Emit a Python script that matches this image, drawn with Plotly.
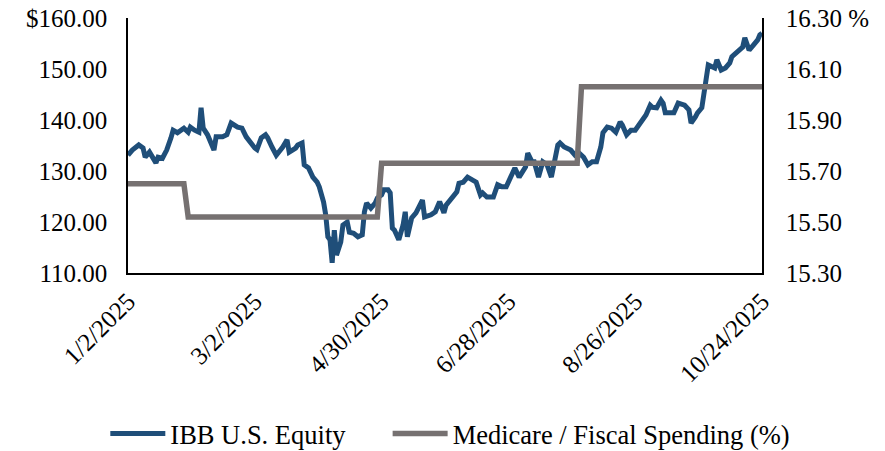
import plotly.graph_objects as go

# IBB U.S. Equity
ibb_dates = [
    "2025-01-02", "2025-01-04", "2025-01-07", "2025-01-09", "2025-01-10", "2025-01-12",
    "2025-01-15", "2025-01-16", "2025-01-18", "2025-01-20", "2025-01-22", "2025-01-23",
    "2025-01-25", "2025-01-28", "2025-01-30", "2025-01-31", "2025-02-02", "2025-02-04",
    "2025-02-05", "2025-02-06", "2025-02-08", "2025-02-11", "2025-02-12", "2025-02-15",
    "2025-02-17", "2025-02-19", "2025-02-22", "2025-02-24", "2025-02-26", "2025-02-28",
    "2025-03-02", "2025-03-03", "2025-03-05", "2025-03-07", "2025-03-08", "2025-03-10",
    "2025-03-12", "2025-03-15", "2025-03-17", "2025-03-18", "2025-03-21", "2025-03-22",
    "2025-03-24", "2025-03-25", "2025-03-27", "2025-03-29", "2025-03-31", "2025-04-01",
    "2025-04-03", "2025-04-04", "2025-04-05", "2025-04-06", "2025-04-07", "2025-04-08",
    "2025-04-09", "2025-04-11", "2025-04-12", "2025-04-14", "2025-04-15", "2025-04-17",
    "2025-04-19", "2025-04-21", "2025-04-22", "2025-04-23", "2025-04-25", "2025-04-27",
    "2025-04-28", "2025-04-30", "2025-05-01", "2025-05-03", "2025-05-04", "2025-05-05",
    "2025-05-06", "2025-05-08", "2025-05-10", "2025-05-11", "2025-05-12", "2025-05-14",
    "2025-05-16", "2025-05-19", "2025-05-20", "2025-05-23", "2025-05-25", "2025-05-27",
    "2025-05-29", "2025-05-30", "2025-06-02", "2025-06-04", "2025-06-05", "2025-06-07",
    "2025-06-09", "2025-06-11", "2025-06-13", "2025-06-15", "2025-06-16", "2025-06-18",
    "2025-06-21", "2025-06-23", "2025-06-25", "2025-06-27", "2025-06-30", "2025-07-01",
    "2025-07-03", "2025-07-06", "2025-07-07", "2025-07-09", "2025-07-10", "2025-07-12",
    "2025-07-14", "2025-07-15", "2025-07-16", "2025-07-18", "2025-07-19", "2025-07-21",
    "2025-07-22", "2025-07-24", "2025-07-27", "2025-07-29", "2025-07-31", "2025-08-02",
    "2025-08-04", "2025-08-06", "2025-08-08", "2025-08-10", "2025-08-11", "2025-08-13",
    "2025-08-15", "2025-08-17", "2025-08-19", "2025-08-20", "2025-08-22", "2025-08-24",
    "2025-08-26", "2025-08-27", "2025-08-30", "2025-08-31", "2025-09-02", "2025-09-03",
    "2025-09-05", "2025-09-07", "2025-09-08", "2025-09-09", "2025-09-10", "2025-09-13",
    "2025-09-15", "2025-09-17", "2025-09-18", "2025-09-20", "2025-09-21", "2025-09-23",
    "2025-09-24", "2025-09-26", "2025-09-27", "2025-09-28", "2025-09-29", "2025-10-01",
    "2025-10-02", "2025-10-03", "2025-10-05", "2025-10-07", "2025-10-09", "2025-10-10",
    "2025-10-12", "2025-10-15", "2025-10-16", "2025-10-18", "2025-10-20", "2025-10-22",
    "2025-10-23", "2025-10-24",
]
ibb_price = [
    133.1, 134.1, 135.1, 134.5, 132.7, 133.7,
    131.6, 132.7, 132.5, 134.1, 136.5, 138.0,
    137.5, 138.4, 137.6, 138.6, 138.0, 137.6,
    142.4, 138.4, 137.1, 134.1, 136.7, 136.7,
    137.1, 139.4, 138.6, 138.4, 136.7, 135.5,
    134.5, 134.2, 136.5, 137.1, 136.5, 134.7,
    133.1, 134.7, 136.1, 133.7, 134.5, 135.1,
    135.5, 131.2, 130.6, 128.8, 127.8, 126.9,
    123.9, 121.4, 117.1, 116.5, 112.0, 118.4,
    113.5, 116.1, 119.4, 120.0, 118.0, 117.8,
    117.1, 117.5, 122.0, 123.7, 122.7, 123.7,
    124.7, 125.3, 126.3, 126.3, 125.7, 118.8,
    118.4, 116.5, 119.4, 122.0, 117.1, 120.8,
    121.8, 124.3, 121.0, 121.4, 122.0, 124.0,
    121.8, 123.3, 124.9, 125.9, 127.6, 127.8,
    128.8, 128.2, 127.8, 125.3, 125.7, 124.9,
    124.9, 127.3, 126.9, 126.9, 129.6, 130.6,
    128.8, 130.8, 133.5, 131.8, 131.8, 128.8,
    131.8, 131.6, 131.2, 128.8, 130.8, 135.1,
    135.5, 134.7, 134.1, 133.1, 133.5, 132.7,
    131.2, 131.8, 131.8, 134.7, 137.5, 138.6,
    138.4, 137.6, 139.6, 139.0, 137.1, 138.0,
    138.0, 138.6, 140.0, 141.0, 142.9, 142.5,
    142.4, 143.9, 143.3, 141.4, 141.4, 141.4,
    143.3, 142.9, 142.9, 142.0, 139.4, 140.6,
    141.4, 142.4, 145.5, 148.4, 150.8, 150.4,
    150.2, 151.8, 149.8, 150.2, 151.2, 152.4,
    153.1, 154.3, 156.1, 153.7, 154.7, 155.7,
    156.7, 157.0,
]

# Medicare / Fiscal Spending (%)
medicare_dates = ["2025-01-02", "2025-01-28", "2025-01-30", "2025-04-28", "2025-04-30",
                  "2025-07-30", "2025-08-01", "2025-10-24"]
medicare_pct = [15.65, 15.65, 15.52, 15.52, 15.73, 15.73, 16.03, 16.03]

x_tickvals = ["2025-01-02", "2025-03-02", "2025-04-30", "2025-06-28", "2025-08-26", "2025-10-24"]
x_ticktext = ["1/2/2025", "3/2/2025", "4/30/2025", "6/28/2025", "8/26/2025", "10/24/2025"]
left_ticks = [110, 120, 130, 140, 150, 160]
left_text = ["110.00", "120.00", "130.00", "140.00", "150.00", "$160.00"]
right_ticks = [15.30, 15.50, 15.70, 15.90, 16.10, 16.30]
right_text = ["15.30", "15.50", "15.70", "15.90", "16.10", "16.30 %"]

FONT = "Liberation Serif, Times New Roman, serif"

fig = go.Figure()
fig.add_trace(go.Scatter(
    x=ibb_dates, y=ibb_price, mode="lines", name="IBB U.S. Equity",
    line=dict(color="#1F4E79", width=5), legend="legend",
))
fig.add_trace(go.Scatter(
    x=medicare_dates, y=medicare_pct, mode="lines", name="Medicare / Fiscal Spending (%)",
    line=dict(color="#767171", width=5.5), yaxis="y2", legend="legend2",
))

# one legend per series so the row doesn't wrap at the plot width
legend_style = dict(orientation="h", xref="container", yref="container",
                    xanchor="left", yanchor="middle", y=0.038,
                    font=dict(size=26.5), itemwidth=55, bgcolor="rgba(0,0,0,0)")

fig.update_layout(
    width=885, height=451,
    margin=dict(l=128, r=123, t=18, b=178),
    plot_bgcolor="white", paper_bgcolor="white",
    font=dict(family=FONT, size=25, color="black"),
    showlegend=True,
    legend=dict(legend_style, x=0.119),
    legend2=dict(legend_style, x=0.438),
    xaxis=dict(
        type="date", range=["2025-01-02", "2025-10-24"],
        tickvals=x_tickvals, ticktext=x_ticktext, tickangle=-45,
        showgrid=False, zeroline=False, automargin=False,
        showline=True, linecolor="black", linewidth=1.5,
        ticks="", ticklabelstandoff=2, ticklabeloverflow="allow",
    ),
    yaxis=dict(
        range=[110, 160], tickvals=left_ticks, ticktext=left_text,
        showgrid=False, zeroline=False, automargin=False,
        showline=True, linecolor="black", linewidth=1.5,
        ticks="", ticklabelstandoff=14, ticklabeloverflow="allow",
    ),
    yaxis2=dict(
        range=[15.30, 16.30], tickvals=right_ticks, ticktext=right_text,
        overlaying="y", side="right",
        showgrid=False, zeroline=False, automargin=False,
        showline=True, linecolor="black", linewidth=1.5,
        ticks="", ticklabelstandoff=17, ticklabeloverflow="allow",
    ),
)

# drop the default body margin so the figure sits at the page's top-left corner
fig.write_html("out.html", config={"displayModeBar": False},
               post_script="document.body.style.margin = '0';")
